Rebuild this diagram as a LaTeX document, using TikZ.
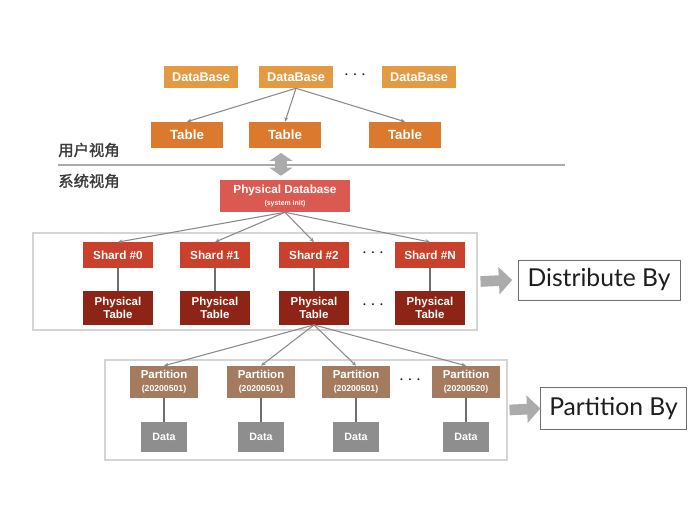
\documentclass[tikz,border=0pt]{standalone}
\usepackage{fontspec}
\setmainfont{Liberation Sans}
\newfontfamily\labelfont{Lato}
\newfontfamily\cjkfont[FakeBold=1.5]{Noto Sans CJK SC}
\usepackage{xcolor}
\usepackage{tikz}
\usetikzlibrary{arrows.meta}
\definecolor{ink}{HTML}{1E1E1E}
\definecolor{cjkgray}{HTML}{3A3A3A}
\definecolor{dborange}{HTML}{E39A45}
\definecolor{tblorange}{HTML}{DB7A2E}
\definecolor{physred}{HTML}{DA5A52}
\definecolor{shardred}{HTML}{C9402C}
\definecolor{ptblred}{HTML}{8E2416}
\definecolor{parttan}{HTML}{A57B5F}
\definecolor{datagray}{HTML}{8E8E8E}
\definecolor{linkgray}{HTML}{8A8A8A}
\definecolor{stemgray}{HTML}{6E6E6E}
\definecolor{framegray}{HTML}{D4D4D4}
\definecolor{fatgray}{HTML}{ABABAB}
\tikzset{
  x=0.75pt,y=-0.75pt,
  >={Stealth[length=1.2mm,width=1mm]},
  box/.style={text=white,inner sep=0pt,align=center},
  dbbox/.style={box,fill=dborange,minimum width=55pt,minimum height=16.5pt,font=\bfseries\fontsize{9.5}{11}\selectfont},
  tblbox/.style={box,fill=tblorange,minimum width=54pt,minimum height=19.5pt,font=\bfseries\fontsize{10}{11}\selectfont},
  physbox/.style={box,fill=physred,minimum width=97.5pt,minimum height=24pt,font=\bfseries\fontsize{8.8}{10}\selectfont},
  shardbox/.style={box,fill=shardred,minimum width=52pt,minimum height=19pt,font=\bfseries\fontsize{8.8}{10}\selectfont},
  ptblbox/.style={box,fill=ptblred,minimum width=52pt,minimum height=25pt,font=\bfseries\fontsize{8.6}{10}\selectfont},
  partbox/.style={box,fill=parttan,minimum width=51pt,minimum height=24pt,font=\bfseries\fontsize{8.6}{9.5}\selectfont},
  databox/.style={box,fill=datagray,minimum width=34pt,minimum height=22.5pt,font=\bfseries\fontsize{8}{9}\selectfont},
  frame/.style={draw=framegray,line width=.8pt,inner sep=0pt},
  tagbox/.style={draw=stemgray,line width=.7pt,text=ink,inner sep=0pt,font=\labelfont\fontsize{18.5}{20}\selectfont},
  view/.style={text=cjkgray,font=\cjkfont\fontsize{11.5}{13}\selectfont},
  dots/.style={text=ink,font=\Large},
  link/.style={->,draw=linkgray,line width=.8pt},
  stem/.style={draw=stemgray,line width=1.4pt},
  fat/.style={draw=fatgray,line width=8pt,-{Triangle[length=10pt,width=20pt]}},
}

\begin{document}
\begin{tikzpicture}
  \useasboundingbox[fill=white] (0,0) rectangle (692,509);

  \node[dbbox] (db1) at (201,77) {DataBase};
  \node[dbbox] (db2) at (296,77) {DataBase};
  \node[dots] (dotsdb) at (355,75) {$\cdots$};
  \node[dbbox] (db3) at (419,77) {DataBase};

  \node[tblbox] (tbl1) at (187,135) {Table};
  \node[tblbox] (tbl2) at (285,135) {Table};
  \node[tblbox] (tbl3) at (405,135) {Table};
  \foreach \t in {tbl1,tbl2,tbl3} \draw[link] (db2.south) -- (\t.north);

  \node[view] (userview) at (89,150) {用户视角};
  \draw[framegray!80!black,line width=1pt] (58,165) -- (565,165);
  \node[view] (sysview) at (89,181) {系统视角};

  \node[physbox] (physdb) at (285,196) {Physical Database\\[-1pt]{\fontsize{5.2}{6}\selectfont(system init)}};
  \draw[fat,line width=8.5pt,{Triangle[length=6pt,width=17pt]}-{Triangle[length=6pt,width=17pt]},shorten <=3.5pt,shorten >=3pt] ([xshift=-3pt]tbl2.south) -- ([xshift=-3pt]physdb.north);

  \node[frame,minimum width=333pt,minimum height=72.75pt] (shardframe) at (255,281.5) {};
  \node[shardbox] (shard0) at (118,255) {Shard \#0};
  \node[shardbox] (shard1) at (215,255) {Shard \#1};
  \node[shardbox] (shard2) at (314,255) {Shard \#2};
  \node[dots] (dotsshard) at (373,253) {$\cdots$};
  \node[shardbox] (shardN) at (430,255) {Shard \#N};
  \node[ptblbox] (ptbl0) at (118,308) {Physical\\Table};
  \node[ptblbox] (ptbl1) at (215,308) {Physical\\Table};
  \node[ptblbox] (ptbl2) at (314,308) {Physical\\Table};
  \node[dots] (dotsptbl) at (373,305) {$\cdots$};
  \node[ptblbox] (ptblN) at (430,308) {Physical\\Table};
  \foreach \s in {0,1,2,N} {
    \draw[link] (physdb.south) -- (shard\s.north);
    \draw[stem] (shard\s.south) -- (ptbl\s.north);
  }

  \node[tagbox,minimum width=121.5pt,minimum height=30pt] (distby) at (599,280) {Distribute By};
  \draw[fat] (shardframe.east) ++(3,0) -- ([xshift=-4pt]distby.west);

  \node[frame,minimum width=301.5pt,minimum height=75pt] (partframe) at (306,410) {};
  \node[partbox] (part1) at (164,382) {Partition\\{\fontsize{6.5}{7.5}\selectfont(20200501)}};
  \node[partbox] (part2) at (261,382) {Partition\\{\fontsize{6.5}{7.5}\selectfont(20200501)}};
  \node[partbox] (part3) at (356,382) {Partition\\{\fontsize{6.5}{7.5}\selectfont(20200501)}};
  \node[dots] (dotspart) at (410,380) {$\cdots$};
  \node[partbox] (part4) at (466,382) {Partition\\{\fontsize{6.5}{7.5}\selectfont(20200520)}};
  \node[databox] (data1) at (164,437) {Data};
  \node[databox] (data2) at (261,437) {Data};
  \node[databox] (data3) at (356,437) {Data};
  \node[databox] (data4) at (466,437) {Data};
  \foreach \p in {1,2,3,4} {
    \draw[link] (ptbl2.south) -- (part\p.north);
    \draw[stem] (part\p.south) -- (data\p.north);
  }

  \node[tagbox,minimum width=109pt,minimum height=32pt] (partby) at (613.5,408.5) {Partition By};
  \draw[fat] (partframe.east) ++(2,0) -- (partby.west);
\end{tikzpicture}
\end{document}
